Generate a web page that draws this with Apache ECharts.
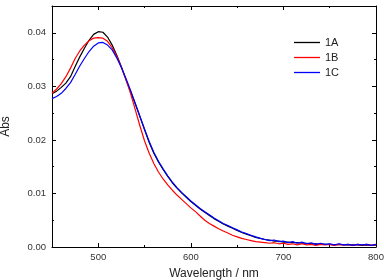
<!DOCTYPE html>
<html><head><meta charset="utf-8">
<script src="https://cdn.jsdelivr.net/npm/echarts@6/dist/echarts.min.js"></script>
<style>html,body{margin:0;padding:0;background:#fff}#c{width:384px;height:280px}</style>
</head><body><div id="c"></div>
<script>
const wavelength = [450,455,460,465,470,475,480,485,490,495,500,505,510,515,520,525,530,535,540,545,550,555,560,565,570,575,580,585,590,595,600,605,610,615,620,625,630,635,640,645,650,655,660,665,670,675,680,685,690,695,700,705,710,715,720,725,730,735,740,745,750,755,760,765,770,775,780,785,790,795,800];
const abs1A = [0.0286,0.0291,0.0298,0.0306,0.0318,0.0337,0.0355,0.0371,0.0386,0.0397,0.0402,0.0401,0.0392,0.0377,0.0358,0.0336,0.0312,
0.0290,0.0267,0.0243,0.0219,0.0195,0.0175,0.0159,0.0145,0.0132,0.0120,0.0110,0.0101,0.0093,0.0085,0.0078,0.0071,0.0065,0.0059,0.0053,0.0048,0.0043,0.0039,0.0035,0.0031,0.0027,0.0024,0.0021,0.0018,0.0016,
0.0014,0.0013,0.0011,0.0011,0.0009,0.0009,0.0008,0.0008,0.0007,0.0007,0.0006,0.0006,0.0005,0.0005,0.0005,0.0004,0.0005,0.0004,0.0004,0.0004,0.0004,0.0003,0.0004,0.0003,0.0004];
const abs1B = [0.0287,0.0295,0.0305,0.0318,0.0334,0.0352,0.0366,0.0377,0.0385,0.0390,0.0391,0.0390,0.0384,0.0372,0.0356,0.0335,0.0312,
0.0286,0.0256,0.0226,0.0198,0.0175,0.0156,0.0140,0.0127,0.0116,0.0106,0.0097,0.0089,0.0081,0.0073,0.0066,0.0058,0.0050,0.0044,0.0039,0.0034,0.0030,0.0026,0.0022,0.0019,0.0016,0.0014,0.0012,0.0010,0.0009,
0.0008,0.0007,0.0008,0.0006,0.0007,0.0005,0.0006,0.0004,0.0006,0.0004,0.0005,0.0003,0.0005,0.0004,0.0005,0.0003,0.0005,0.0004,0.0005,0.0003,0.0005,0.0004,0.0005,0.0003,0.0004];
const abs1C = [0.0277,0.0281,0.0287,0.0296,0.0307,0.0322,0.0338,0.0352,0.0365,0.0375,0.0381,0.0382,0.0377,0.0368,0.0353,0.0335,0.0314,
0.0292,0.0268,0.0244,0.0220,0.0197,0.0177,0.0160,0.0146,0.0133,0.0121,0.0111,0.0102,0.0094,0.0086,0.0079,0.0072,0.0066,0.0060,0.0054,0.0049,0.0044,0.0040,0.0036,0.0032,0.0028,0.0025,0.0022,0.0019,0.0016,
0.0014,0.0012,0.0013,0.0010,0.0011,0.0008,0.0010,0.0007,0.0009,0.0006,0.0008,0.0005,0.0007,0.0005,0.0006,0.0004,0.0006,0.0004,0.0005,0.0003,0.0005,0.0004,0.0005,0.0003,0.0005];
const seriesNames = ['1A','1B','1C'];
const seriesColors = ['#000000','#ff0000','#0000ff'];
const xMajorTicks = [500,600,700,800];
const xMinorTicks = [550,650,750];
const yMajorTicks = [0,0.01,0.02,0.03,0.04];
const yMinorTicks = [0.005,0.015,0.025,0.035];

const FONT = '"Liberation Sans", Arial, sans-serif';
const lineStyleAxis = {color:'#000', width:1};
function xAx(pos, ticks, len, showLine, labels, name){
  return {type:'value', position:pos, min:450, max:800, gridIndex:0,
    axisLine:{show:showLine, onZero:false, lineStyle:lineStyleAxis},
    axisTick:{show:true, inside:true, length:len, customValues:ticks, lineStyle:lineStyleAxis},
    axisLabel:labels?{show:true, customValues:ticks, color:'#333', fontSize:9.5, fontFamily:FONT, margin:5}:{show:false},
    splitLine:{show:false},
    name:name||'', nameLocation:'middle', nameGap:21,
    nameTextStyle:{color:'#222', fontSize:12, fontFamily:FONT}};
}
function yAx(pos, ticks, len, showLine, labels, name){
  return {type:'value', position:pos, min:0, max:0.045, gridIndex:0,
    axisLine:{show:showLine, onZero:false, lineStyle:lineStyleAxis},
    axisTick:{show:true, inside:true, length:len, customValues:ticks, lineStyle:lineStyleAxis},
    axisLabel:labels?{show:true, customValues:ticks, color:'#333', fontSize:9.5, fontFamily:FONT, margin:6,
      formatter:v=>v.toFixed(2)}:{show:false},
    splitLine:{show:false},
    name:name||'', nameLocation:'middle', nameGap:40,
    nameTextStyle:{color:'#222', fontSize:12, fontFamily:FONT}};
}
const chart = echarts.init(document.getElementById('c'), null, {renderer:'canvas'});
const dataSets = [abs1A, abs1B, abs1C];
chart.setOption({
  animation:false,
  backgroundColor:'#fff',
  grid:{left:52, right:8, top:6, bottom:33, containLabel:false, outerBoundsMode:'none'},
  legend:{orient:'vertical', left:289, top:31, itemWidth:26, itemHeight:1.3, itemGap:2, icon:'rect',
    textStyle:{color:'#222', fontSize:11, fontFamily:FONT, lineHeight:13},
    data:seriesNames.map(n=>({name:n}))},
  xAxis:[
    xAx('bottom', xMajorTicks, 4, true, true, 'Wavelength / nm'),
    xAx('bottom', xMinorTicks, 2, false, false),
    xAx('top', xMajorTicks, 4, true, false),
    xAx('top', xMinorTicks, 2, false, false)
  ],
  yAxis:[
    yAx('left', yMajorTicks, 4, true, true, 'Abs'),
    yAx('left', yMinorTicks, 2, false, false),
    yAx('right', yMajorTicks, 4, true, false),
    yAx('right', yMinorTicks, 2, false, false)
  ],
  series: seriesNames.map((n,i)=>({
    name:n, type:'line', xAxisIndex:0, yAxisIndex:0, symbol:'none', showSymbol:false,
    lineStyle:{color:seriesColors[i], width:1.2}, itemStyle:{color:seriesColors[i]},
    data: wavelength.map((w,k)=>[w, dataSets[i][k]])
  }))
});
</script></body></html>
